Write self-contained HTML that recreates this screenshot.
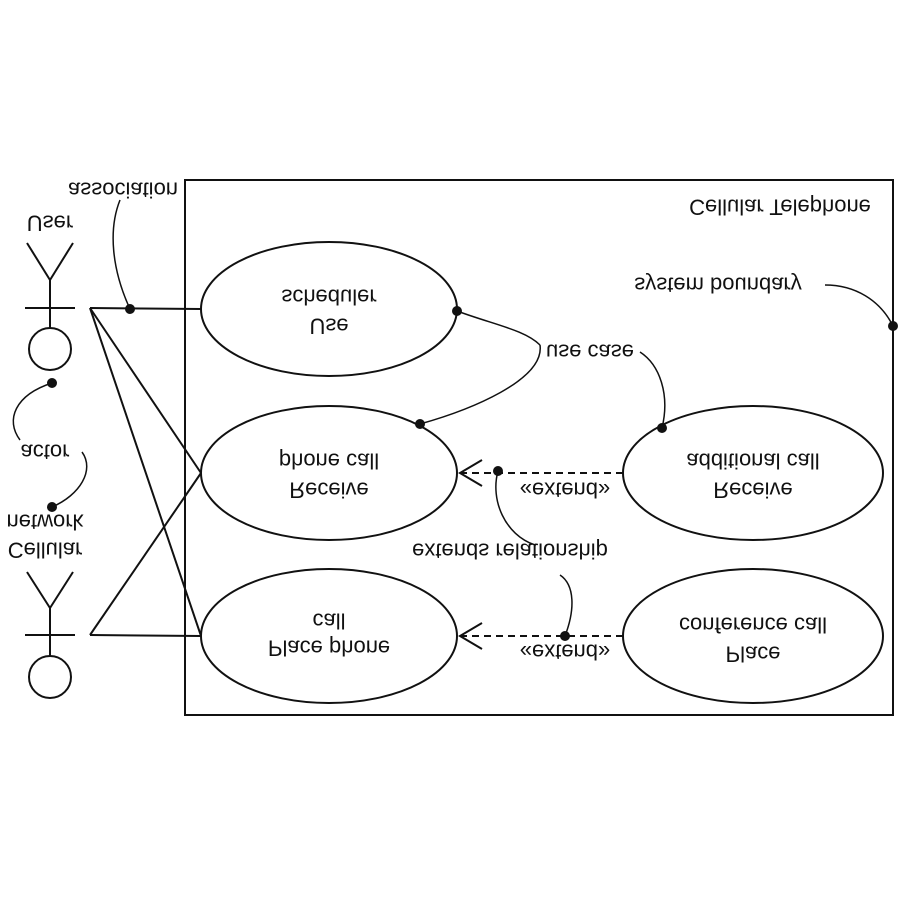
<!DOCTYPE html>
<html><head><meta charset="utf-8"><style>
body{margin:0;background:#fff}
svg text{font-family:"Liberation Sans",sans-serif;font-size:22px;fill:#111}
</style></head><body>
<svg width="900" height="900" viewBox="0 0 900 900" fill="none" stroke="#111" stroke-width="2">
<rect x="185" y="180" width="708" height="535"/>
<g>
<circle cx="50" cy="349" r="21"/><line x1="50" y1="328" x2="50" y2="278"/><line x1="25" y1="308" x2="75" y2="308"/>
<line x1="50" y1="280" x2="27" y2="243"/><line x1="50" y1="280" x2="73" y2="243"/></g>
<g>
<circle cx="50" cy="677" r="21"/><line x1="50" y1="656" x2="50" y2="606"/><line x1="25" y1="635" x2="75" y2="635"/>
<line x1="50" y1="608" x2="27" y2="572"/><line x1="50" y1="608" x2="73" y2="572"/></g>
<g>
<line x1="90" y1="308" x2="201" y2="309"/><line x1="90" y1="308" x2="201" y2="473"/><line x1="90" y1="308" x2="201" y2="636"/>
<line x1="90" y1="635" x2="201" y2="636"/><line x1="90" y1="635" x2="201" y2="473"/></g>
<ellipse cx="329" cy="309" rx="128" ry="67"/>
<ellipse cx="329" cy="473" rx="128" ry="67"/>
<ellipse cx="329" cy="636" rx="128" ry="67"/>
<ellipse cx="753" cy="473" rx="130" ry="67"/>
<ellipse cx="753" cy="636" rx="130" ry="67"/>
<g stroke-dasharray="7,5">
<line x1="623" y1="473" x2="460" y2="473"/><line x1="623" y1="636" x2="460" y2="636"/></g>
<path d="M482,460 L460,473 L482,486 M482,623 L460,636 L482,649"/>
<g stroke-width="1.5">
<path d="M130,309 C112,270 108,230 120,200"/>
<path d="M457,311 C495,325 525,330 540,345"/>
<path d="M420,424 C470,410 545,380 540,345"/>
<path d="M662,428 C670,395 660,365 640,352"/>
<path d="M893,326 C880,300 855,285 825,285"/>
<path d="M52,383 C15,395 5,420 20,440"/>
<path d="M52,507 C80,495 95,470 82,452"/>
<path d="M498,471 C490,500 505,535 535,545"/>
<path d="M565,636 C575,610 575,585 560,575"/></g>
<g fill="#111" stroke="none">
<circle cx="130" cy="309" r="5"/><circle cx="457" cy="311" r="5"/><circle cx="420" cy="424" r="5"/><circle cx="662" cy="428" r="5"/>
<circle cx="498" cy="471" r="5"/><circle cx="565" cy="636" r="5"/><circle cx="893" cy="326" r="5"/><circle cx="52" cy="383" r="5"/><circle cx="52" cy="507" r="5"/></g>
<g stroke="none" text-anchor="middle" dominant-baseline="central">
<text transform="translate(780,207) scale(1,-1)">Cellular Telephone</text>
<text transform="translate(718,285) scale(1,-1)">system boundary</text>
<text transform="translate(590,352) scale(1,-1)">use case</text>
<text transform="translate(123,190) scale(1,-1)">association</text>
<text transform="translate(50,223) scale(1,-1)">User</text>
<text transform="translate(45,452) scale(1,-1)">actor</text>
<text transform="translate(45,522) scale(1,-1)">network</text>
<text transform="translate(45,550) scale(1,-1)">Cellular</text>
<text transform="translate(565,490) scale(1,-1)">«extend»</text>
<text transform="translate(565,652) scale(1,-1)">«extend»</text>
<text transform="translate(510,551) scale(1,-1)">extends relationship</text>
<text transform="translate(329,326) scale(1,-1)">Use</text>
<text transform="translate(329,297) scale(1,-1)">scheduler</text>
<text transform="translate(329,490) scale(1,-1)">Receive</text>
<text transform="translate(329,461) scale(1,-1)">phone call</text>
<text transform="translate(329,648) scale(1,-1)">Place phone</text>
<text transform="translate(329,621) scale(1,-1)">call</text>
<text transform="translate(753,490) scale(1,-1)">Receive</text>
<text transform="translate(753,461) scale(1,-1)">additional call</text>
<text transform="translate(753,654) scale(1,-1)">Place</text>
<text transform="translate(753,625) scale(1,-1)">conference call</text>
</g>
</svg>
</body></html>
